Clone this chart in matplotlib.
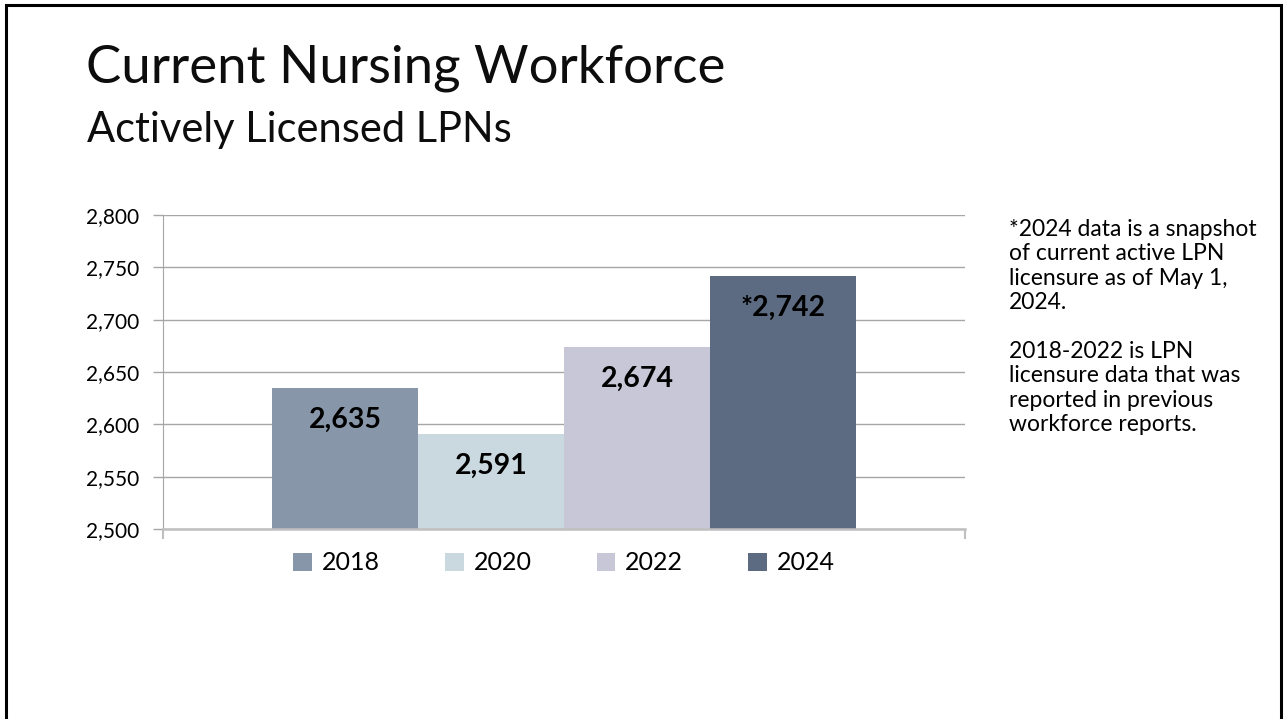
#!/usr/bin/env python3
"""Actively licensed LPNs bar chart (slide style)."""
import matplotlib
matplotlib.use("Agg")
import matplotlib.pyplot as plt
from matplotlib.patches import Patch, Rectangle
from matplotlib.ticker import FuncFormatter

YEARS = ["2018", "2020", "2022", "2024"]
LPN_COUNTS = [2635, 2591, 2674, 2742]
LABEL_PREFIX = ["", "", "", "*"]
COLORS = ["#8896A9", "#CAD8DF", "#C8C7D7", "#5D6B82"]
Y_TICKS = [2500, 2550, 2600, 2650, 2700, 2750, 2800]

TITLE = "Current Nursing Workforce"
SUBTITLE = "Actively Licensed LPNs"
NOTE = ("*2024 data is a snapshot\nof current active LPN\nlicensure as of May 1,\n2024.\n\n"
        "2018-2022 is LPN\nlicensure data that was\nreported in previous\nworkforce reports.")

plt.rcParams["font.family"] = ["Lato", "DejaVu Sans"]

fig = plt.figure(figsize=(12.86, 7.19), dpi=100)
fig.patch.set_facecolor("white")

# slide border (open at the bottom)
fig.add_artist(Rectangle((5.5 / 1286, -0.05), 1 - 11 / 1286, 1.05 - 5 / 719,
                         transform=fig.transFigure, fill=False,
                         edgecolor="black", linewidth=2.2))

fig.text(86 / 1286, 1 - 82 / 719, TITLE, fontsize=38, fontweight="normal",
         color="#0D0D0D", ha="left", va="baseline")
fig.text(87 / 1286, 1 - 142 / 719, SUBTITLE, fontsize=30, fontweight="normal",
         color="#0D0D0D", ha="left", va="baseline")

ax = fig.add_axes([163 / 1286, 1 - 529 / 719, 802 / 1286, 314 / 719])

width = 0.182
for i, (yr, val, col) in enumerate(zip(YEARS, LPN_COUNTS, COLORS)):
    x = (i - 1.5) * width
    ax.bar(x, val - Y_TICKS[0], width, bottom=Y_TICKS[0], color=col, zorder=2)
    ax.annotate(f"{LABEL_PREFIX[i]}{val:,}", (x, val), xytext=(0, -14),
                textcoords="offset points", ha="center", va="top",
                fontsize=20.5, fontweight="bold", color="black", zorder=3)

ax.set_xlim(-0.5, 0.5)
ax.set_ylim(Y_TICKS[0], Y_TICKS[-1])
ax.set_yticks(Y_TICKS)
ax.yaxis.set_major_formatter(FuncFormatter(lambda v, _: f"{int(v):,}"))
ax.set_xticks([-0.5, 0.5])
ax.set_xticklabels([])
ax.tick_params(axis="y", length=7, width=1, color="#A6A6A6", labelsize=15, pad=10)
ax.tick_params(axis="x", length=7, width=1.5, color="#BFBFBF")
ax.grid(axis="y", color="#A6A6A6", linewidth=1, zorder=0)
for side in ["top", "right"]:
    ax.spines[side].set_visible(False)
ax.spines["left"].set_color("#A6A6A6")
ax.spines["bottom"].set_color("#BFBFBF")
ax.spines["bottom"].set_linewidth(1.8)
ax.spines["bottom"].set_zorder(3)

handles = [Patch(facecolor=c, edgecolor="none", label=y) for y, c in zip(YEARS, COLORS)]
fig.legend(handles=handles, loc="center", bbox_to_anchor=(564 / 1286, 1 - 563 / 719),
           ncol=4, frameon=False, fontsize=18, handlelength=0.75, handleheight=0.75,
           handletextpad=0.4, columnspacing=2.6)

fig.text(1009 / 1286, 1 - 219 / 719, NOTE, fontsize=16.5, ha="left", va="top",
         linespacing=1.2, color="black")

fig.savefig("out.png", dpi=100)
